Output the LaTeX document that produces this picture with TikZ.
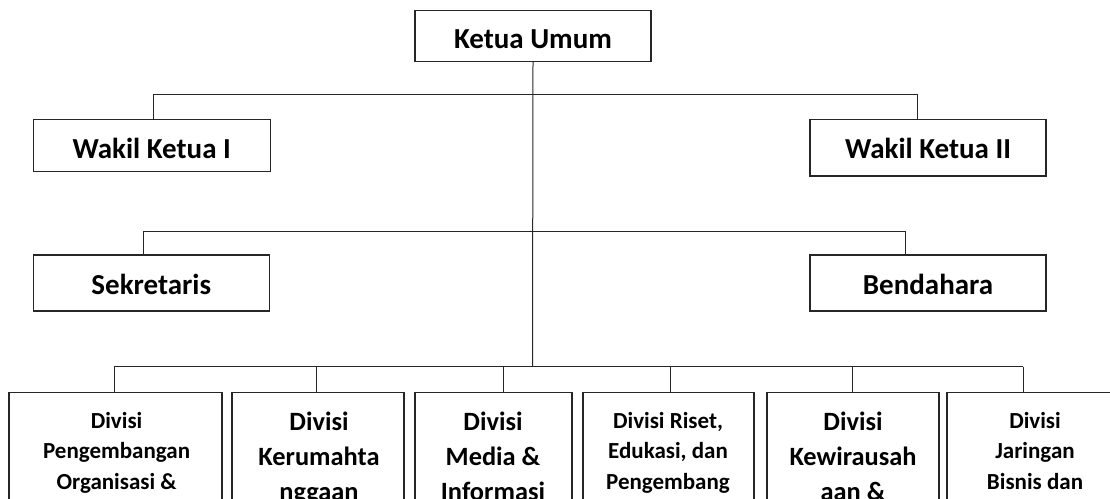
\documentclass[tikz,border=0pt]{standalone}
\usepackage{fontspec}
\setmainfont{Carlito}
\begin{document}
\begin{tikzpicture}[x=0.75pt,y=-0.75pt,
  conn/.style={line width=0.75pt, draw=black!85},
  topbox/.style={draw=black!85, line width=0.8pt, inner sep=0pt, text depth=0pt,
    font=\bfseries\fontsize{21.75pt}{26pt}\selectfont},
  divbox/.style={draw=black!85, line width=0.8pt, inner sep=0pt, anchor=north, minimum height=120pt},
  divtext/.style={anchor=north, inner sep=0pt, align=center,
    font=\bfseries\fontsize{17.25pt}{22.9pt}\selectfont},
  divtextL/.style={anchor=north, inner sep=0pt, align=center,
    font=\bfseries\fontsize{19.8pt}{26.25pt}\selectfont}]
\useasboundingbox (0,0) rectangle (1110,499);
\clip (0,0) rectangle (1110,499);

% top level boxes
\node[topbox, minimum width=177pt, minimum height=38.25pt, text height=19.2pt] (ketua) at (533,36.2) {Ketua Umum};
\node[topbox, minimum width=177.5pt, minimum height=38.8pt, text height=19.65pt] (wk1) at (151.7,145.2) {Wakil Ketua I};
\node[topbox, minimum width=177pt, minimum height=42.5pt, text height=15.9pt] (wk2) at (928,147.7) {Wakil Ketua II};
\node[topbox, minimum width=177pt, minimum height=42pt, text height=16.5pt] (sek) at (151.3,283) {Sekretaris};
\node[topbox, minimum width=177pt, minimum height=42pt, text height=16.5pt] (ben) at (928,283) {Bendahara};

% division boxes
\node[divbox, minimum width=159.75pt] (b1) at (115.5,392.3) {};
\node[divbox, minimum width=129pt]    (b2) at (318,392.3) {};
\node[divbox, minimum width=117.75pt] (b3) at (493.5,392.3) {};
\node[divbox, minimum width=128.25pt] (b4) at (668.5,392.3) {};
\node[divbox, minimum width=129pt]    (b5) at (853,392.3) {};
\node[divbox, minimum width=132pt]    (b6) at (1035,392.3) {};

\node[divtext]  (t1) at (116.6,404) {\rule{0pt}{18pt}Divisi\\Pengembangan\\Organisasi \&};
\node[divtextL] (t2) at (319,406) {\rule{0pt}{18pt}Divisi\\Kerumahta\\nggaan};
\node[divtextL] (t3) at (493,406) {\rule{0pt}{18pt}Divisi\\Media \&\\Informasi};
\node[divtext]  (t4) at (668,404) {\rule{0pt}{18pt}Divisi Riset,\\Edukasi, dan\\Pengembang};
\node[divtextL] (t5) at (853,406) {\rule{0pt}{18pt}Divisi\\Kewirausah\\aan \&};
\node[divtext]  (t6) at (1035,404) {\rule{0pt}{18pt}Divisi\\Jaringan\\Bisnis dan};

% junctions
\coordinate (h1l) at (153,94.3);
\coordinate (h1r) at (917,94.3);
\coordinate (h2l) at (143.3,231);
\coordinate (h2r) at (905,231);
\coordinate (h3) at (532.5,366.5);
\coordinate (d1) at (114,366.5);
\coordinate (d2) at (316,366.5);
\coordinate (d3) at (503.5,366.5);
\coordinate (d4) at (670,366.5);
\coordinate (d5) at (852,366.5);
\coordinate (d6) at (1023,366.5);

% connectors
\draw[conn] (ketua.south) -- (h3);
\draw[conn] (h1l |- wk1.north) -- (h1l) -- (h1r) -- (h1r |- wk2.north);
\draw[conn] (h2l |- sek.north) -- (h2l) -- (h2r) -- (h2r |- ben.north);
\draw[conn] (d1) -- (d6);
\draw[conn] (d1) -- (d1 |- b1.north);
\draw[conn] (d2) -- (d2 |- b2.north);
\draw[conn] (d3) -- (d3 |- b3.north);
\draw[conn] (d4) -- (d4 |- b4.north);
\draw[conn] (d5) -- (d5 |- b5.north);
\draw[conn] (d6) -- (d6 |- b6.north);
\end{tikzpicture}
\end{document}
